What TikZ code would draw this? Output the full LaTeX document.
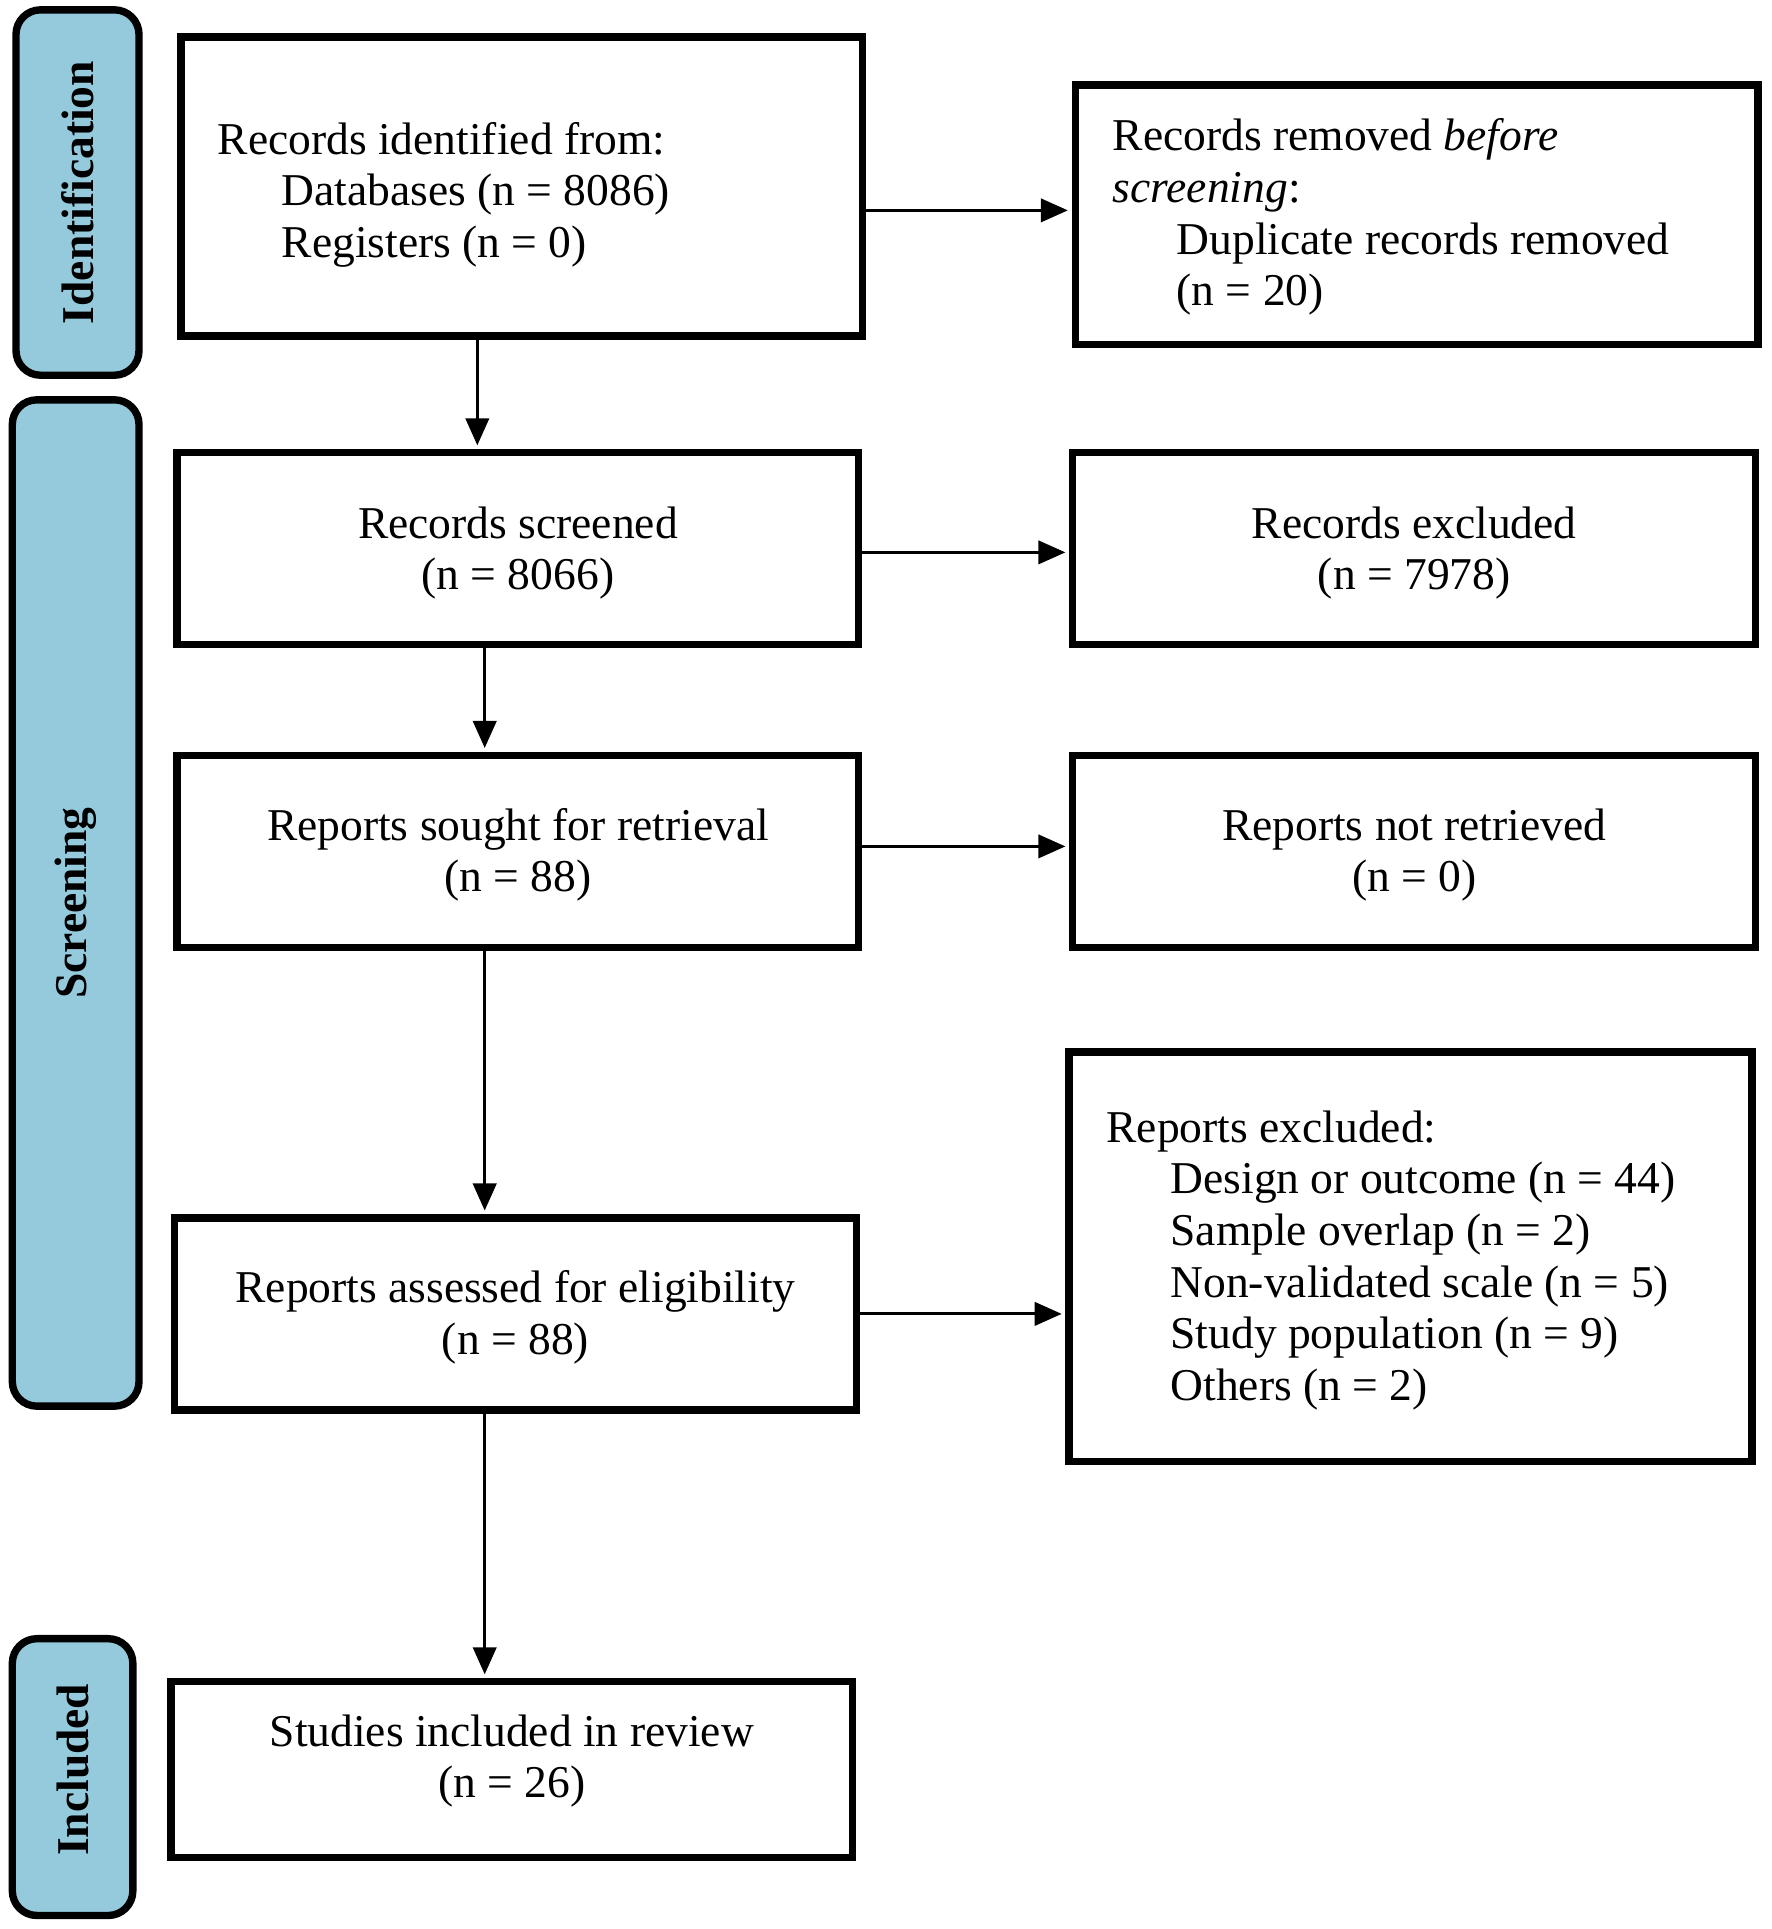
\documentclass[tikz,border=0pt]{standalone}
\usepackage{fontspec}
\setmainfont{Liberation Serif}
\usetikzlibrary{arrows.meta}
\definecolor{phaseblue}{RGB}{148,202,220}
\newcommand{\tgap}[1]{\rule{0pt}{#1}}
\newcommand{\plainsp}{\spaceskip=0pt\xspaceskip=0pt\relax}
\begin{document}
\begin{tikzpicture}[x=0.5pt,y=-0.5pt,
  box/.style={draw=black, line width=3pt, fill=white, font=\fontsize{18.5pt}{21pt}\selectfont, inner sep=0pt},
  lbox/.style={box, align=left, text width=247pt},
  cbox/.style={box, align=center},
  phase/.style={draw=black, line width=3pt, fill=phaseblue, rounded corners=10pt, rotate=90, font=\fontsize{18.5pt}{21pt}\selectfont\bfseries, inner sep=0pt},
  arr/.style={-{Triangle[length=11pt,width=9.5pt]}, line width=1.2pt, shorten >=1.5pt}]
\useasboundingbox (0,0) rectangle (1440,1568);

% phase bars
\node[phase, minimum width=148.5pt, minimum height=50pt] (idph) at (63,156.5) {Identification};
\node[phase, minimum width=409pt, minimum height=51.5pt] (scph) at (61.5,734) {Screening};
\node[phase, minimum width=112.5pt, minimum height=49pt] (inph) at (59,1444.5) {\hspace*{6pt}Included};

% boxes
\node[lbox, minimum width=277pt, minimum height=121.5pt] (ident) at (424,151.5)
  {\plainsp\tgap{19.8pt}Records identified from:\\\hspace*{26pt}Databases (n = 8086)\\\hspace*{26pt}Registers (n = 0)};
\node[lbox, minimum width=277.5pt, minimum height=105.5pt] (removed) at (1151.5,174.5)
  {\plainsp\tgap{15pt}Records removed \textit{before}\\\textit{screening}:\\\hspace*{26pt}Duplicate records removed\\\hspace*{26pt}(n = 20)};
\node[cbox, minimum width=277pt, minimum height=78pt] (screened) at (421,446)
  {\tgap{16.5pt}Records screened\\(n = 8066)};
\node[cbox, minimum width=277.5pt, minimum height=78pt] (excluded) at (1149.5,446)
  {\tgap{16.5pt}Records excluded\\(n = 7978)};
\node[cbox, minimum width=277pt, minimum height=78pt] (sought) at (421,692)
  {\tgap{15.8pt}Reports sought for retrieval\\(n = 88)};
\node[cbox, minimum width=277.5pt, minimum height=78pt] (notret) at (1149.5,692)
  {\tgap{15.8pt}Reports not retrieved\\(n = 0)};
\node[cbox, minimum width=277pt, minimum height=78pt] (assessed) at (419,1068)
  {\tgap{15.8pt}Reports assessed for eligibility\\(n = 88)};
\node[lbox, minimum width=277.5pt, minimum height=166.5pt] (repexcl) at (1146.5,1021.5)
  {\plainsp\tgap{15.8pt}Reports excluded:\\\hspace*{26pt}Design or outcome (n = 44)\\\hspace*{26pt}Sample overlap (n = 2)\\\hspace*{26pt}Non-validated scale (n = 5)\\\hspace*{26pt}Study population (n = 9)\\\hspace*{26pt}Others (n = 2)};
\node[cbox, minimum width=277pt, minimum height=71.5pt] (included) at (416,1438.5)
  {Studies included in review\\(n = 26)\rule[-11pt]{0pt}{11pt}};

% horizontal arrows
\coordinate (h1) at (0,171);
\coordinate (h2) at (0,449);
\coordinate (h3) at (0,688);
\coordinate (h4) at (0,1068);
\draw[arr] (ident.east |- h1) -- (removed.west |- h1);
\draw[arr] (screened.east |- h2) -- (excluded.west |- h2);
\draw[arr] (sought.east |- h3) -- (notret.west |- h3);
\draw[arr] (assessed.east |- h4) -- (repexcl.west |- h4);

% vertical arrows
\draw[arr] ([xshift=-18pt]ident.south) -- ([xshift=-18pt]ident.south |- screened.north);
\draw[arr] ([xshift=-13.5pt]screened.south) -- ([xshift=-13.5pt]screened.south |- sought.north);
\draw[arr] ([xshift=-13.5pt]sought.south) -- ([xshift=-13.5pt]sought.south |- assessed.north);
\draw[arr] ([xshift=-12.5pt]assessed.south) -- ([xshift=-12.5pt]assessed.south |- included.north);
\end{tikzpicture}
\end{document}
